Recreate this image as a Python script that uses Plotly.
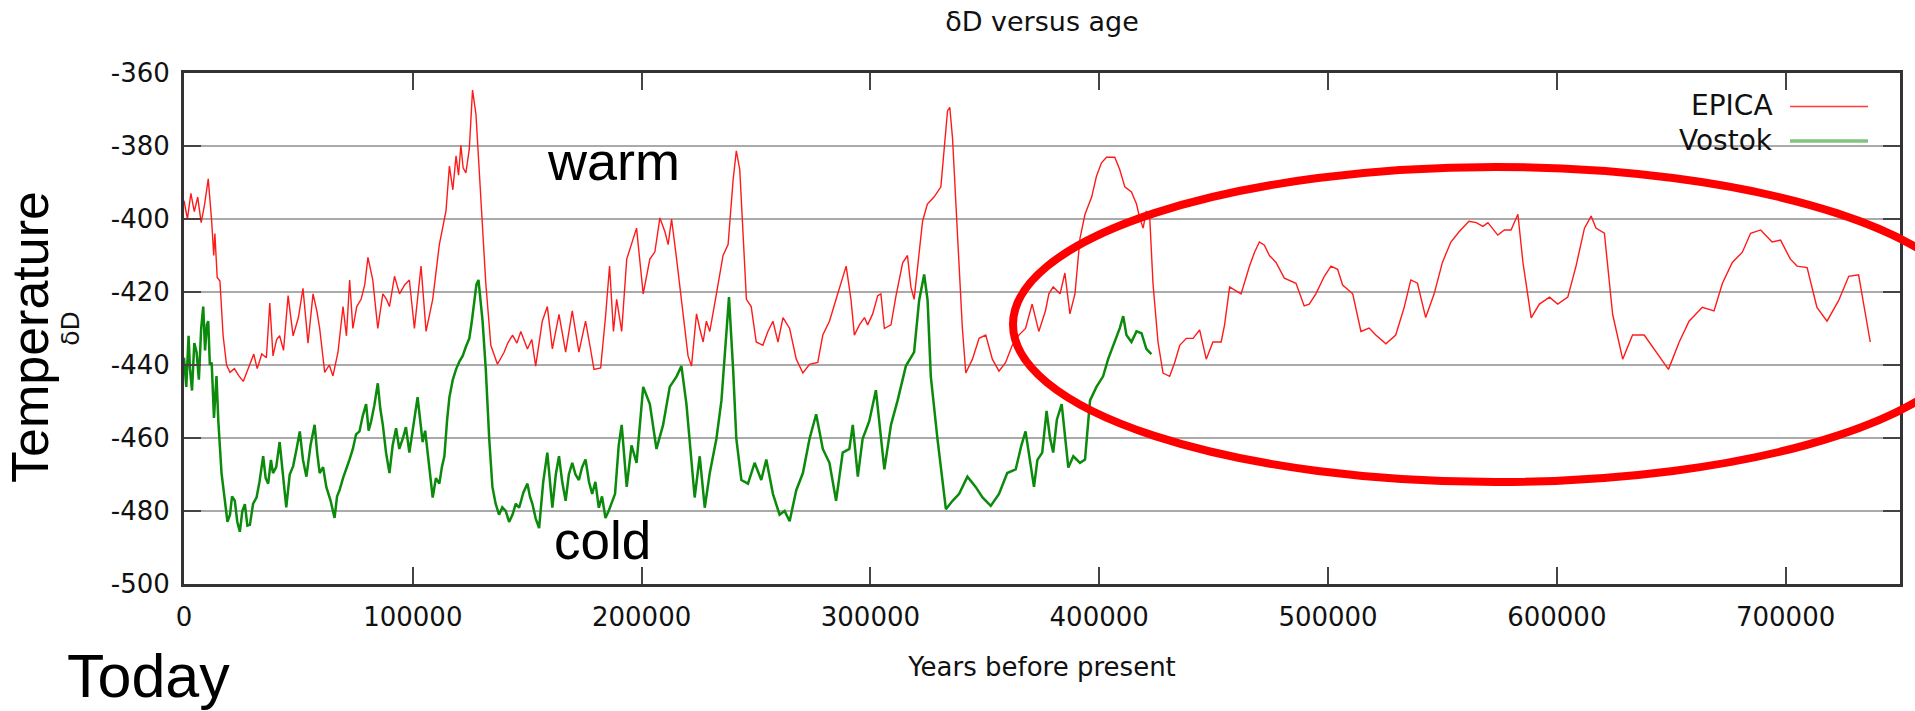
import plotly.graph_objects as go

# ---------------- data ----------------
epica_age = [0, 1500, 3000, 4500, 6000, 7500, 9000, 10600, 12100, 13000, 13500, 14500, 15700, 17100,
             18600, 20100, 22000, 24000, 25900, 27500, 28800, 30500, 32000, 34000, 36000, 37500, 38900,
             40500, 41800, 43500, 45500, 47700, 50000, 52000, 54200, 56400, 58000, 59300, 61500, 63500,
             65100, 67300, 69500, 71000, 72400, 73800, 75500, 77400, 79000, 80400, 82500, 84700, 86900,
             88500, 89800, 92000, 94200, 96500, 98500, 100700, 103600, 105800, 108700, 111600, 114500,
             116000, 117500, 118900, 120000, 121000, 122000, 123200, 124700, 126100, 127600, 129000,
             130500, 131900, 134100, 137000, 139900, 141500, 143600, 145500, 147200, 150100, 152000,
             153700, 156600, 158800, 161000, 163900, 166800, 169700, 172600, 175500, 177500, 179200,
             182100, 184200, 186000, 187700, 189100, 191300, 193500, 195600, 197800, 199000, 200700,
             203600, 205800, 208000, 210200, 211600, 213100, 215300, 218200, 220300, 221800, 224000,
             225400, 226900, 228300, 229800, 232700, 235600, 237800, 240000, 241400, 242900, 244300,
             245800, 247900, 250100, 253000, 255200, 257400, 259600, 261800, 264700, 267600, 270500,
             273400, 277000, 279200, 282100, 285000, 287200, 289400, 291500, 293000, 295200, 297400,
             298800, 301000, 303200, 304600, 306100, 309000, 311200, 314100, 316200, 317700, 319100,
             320600, 322800, 324900, 327800, 330800, 332200, 333700, 334700, 335900, 338000, 340200,
             341700, 344600, 347500, 350400, 353300, 356200, 359100, 362000, 364900, 367800, 370700,
             373600, 376500, 378000, 379900, 382900, 385000, 387200, 389400, 391600, 393800, 396700,
             398800, 401000, 403200, 406800, 409000, 411200, 414100, 416300, 417700, 419200, 420600,
             422100, 423500, 425700, 427900, 430800, 433000, 435200, 438100, 441000, 443900, 446800,
             449700, 453300, 454800, 457000, 462000, 465700, 467900, 470000, 472200, 474400, 477300,
             480900, 486000, 489600, 491800, 494700, 498400, 501300, 504200, 506400, 510800, 514400,
             518000, 520900, 525300, 529600, 533300, 536200, 539100, 542700, 546400, 550000, 553700,
             557300, 561600, 564800, 567700, 569900, 574200, 577100, 580000, 583000, 585200, 588800,
             592400, 596800, 600400, 604800, 608400, 612100, 615000, 617100, 620800, 624400, 628800,
             633100, 638200, 643300, 648800, 653500, 657800, 663600, 668700, 672400, 676700, 681100,
             684700, 689100, 694100, 697800, 702100, 705000, 709400, 713700, 718100, 723200, 727600,
             731900, 737000]
epica_dd = [-395, -400, -393, -398, -394, -401, -396, -389, -400.6, -410, -404, -416, -417, -432,
            -440, -442, -441, -443, -444.5, -442, -440, -437, -441, -437, -438, -423, -437.5,
            -433, -432, -436, -421, -432, -427, -419, -434, -420.5, -425, -430, -442, -440,
            -443, -436.5, -424, -432, -416.7, -430, -424, -422, -418, -410.5, -416.7, -430, -420.5,
            -422, -424, -415.7, -420.5, -418, -416.7, -430, -412.9, -430.8, -422, -407, -397.8,
            -385.5, -392, -382.7, -388, -379.8, -386, -387.4, -380.8, -364.7, -371.3, -387.4,
            -403.5, -417.6, -434.6, -439.8, -436.5, -434, -431.8, -434, -430.8, -435.6, -433,
            -440.3, -428, -424, -435.6, -426.1, -436.5, -425.2, -436.5, -428, -435, -441.2,
            -440.8, -427, -412.9, -430.8, -422, -430.8, -411, -407, -402.5, -410, -420.5,
            -411, -409, -399.7, -403.5, -407, -400, -411, -426, -437.5, -440.3, -426,
            -430, -433.7, -428, -430.8, -420.5, -410, -407, -389.3, -381.3, -386.5, -403.5,
            -422, -424, -433.7, -434.6, -430.8, -428, -433.7, -427, -430, -438.4, -442.2,
            -439.8, -439.3, -431.8, -428, -422, -417.6, -412.9, -422, -431.8, -429, -427,
            -429, -426, -421, -420.5, -430, -429, -421, -412, -410, -418.6, -422,
            -412.9, -400.6, -395.9, -394, -391.2, -381.7, -370.4, -369.4, -377.9, -403.5, -430,
            -442.2, -438.4, -432.7, -431.8, -438.4, -441.7, -439.3, -434.6, -431.8, -430, -423.3,
            -430.8, -425.2, -420.5, -418.6, -420.5, -414.8, -426, -420.5, -405.3, -398.7, -394,
            -388.3, -384.6, -383.1, -383.1, -386.5, -391.2, -392.6, -395.9, -399.7, -402.5, -397.8,
            -399.7, -417.6, -433.7, -442.2, -443.1, -439.3, -434.6, -432.7, -432.7, -430.4, -438.4,
            -433.7, -433.7, -429, -418.6, -420.5, -412.9, -409.1, -406.3, -407.2, -410, -411.9,
            -416.2, -417.6, -423.8, -423.3, -420.5, -415.7, -412.9, -413.8, -418.1, -420.5, -430.8,
            -429.9, -431.8, -434.2, -431.8, -424.2, -416.7, -417.6, -427, -420.5, -411.9, -406.3,
            -403.5, -400.6, -401, -402, -401, -404.4, -403, -403, -398.7, -411.9, -427.1,
            -423.3, -421.4, -423.3, -421.4, -412.9, -402.5, -399.2, -402.5, -403.9, -426.1, -438.4,
            -431.8, -431.8, -436.5, -441.2, -433.7, -428, -424.2, -425.2, -417.6, -411.9, -409.1,
            -403.9, -403, -406.3, -405.8, -411, -412.9, -413.3, -424.2, -428, -422.3, -415.7,
            -415.3, -433.7]

vostok_age = [0, 1000, 2000, 2600, 3500, 4500, 5500, 6500, 7500, 8400, 9200, 10000, 10600, 11300,
              12100, 13100, 14200, 15000, 16400, 17900, 19000, 20100, 21000, 22200, 23300, 24400,
              25500, 26600, 27700, 28800, 30200, 31700, 33000, 34600, 35700, 36800, 38000, 38900,
              40300, 41800, 43300, 44700, 46200, 47700, 49200, 50600, 52000, 53500, 55300, 57100,
              58200, 59300, 60800, 62200, 64000, 65800, 66900, 68000, 69500, 70900, 72300, 73800,
              75200, 76700, 78100, 79600, 80700, 81800, 83200, 84700, 85800, 86900, 88300, 89800,
              91200, 92700, 94100, 95600, 97000, 98500, 100300, 102100, 103200, 104300, 105400,
              106500, 107600, 108700, 110100, 111600, 112700, 113800, 115000, 116000, 117500,
              118900, 120400, 121800, 123200, 124700, 125800, 126800, 127800, 128700, 129600,
              130500, 131900, 133400, 134800, 136200, 137700, 139100, 140600, 142100, 143600,
              145000, 146500, 148300, 150100, 151200, 152300, 153700, 155200, 157000, 158800,
              159900, 161000, 162500, 163900, 165300, 166800, 168200, 169700, 171100, 172600,
              174000, 175500, 177000, 178400, 179800, 181300, 182700, 184200, 185600, 187100,
              188400, 190000, 191300, 193500, 195600, 197800, 200700, 203600, 206500, 209400,
              212300, 215300, 217400, 219600, 221100, 223200, 225400, 227600, 229800, 232700,
              234900, 237100, 238200, 240000, 241400, 243600, 246500, 249400, 252300, 254500,
              257400, 260300, 262500, 264700, 267600, 270500, 273400, 276300, 279200, 282100,
              285000, 287900, 290800, 292300, 294500, 296600, 299500, 302400, 303900, 306100,
              309000, 311900, 315500, 319100, 321300, 323500, 325000, 326400, 329300, 333000,
              335900, 338800, 342400, 346000, 349000, 352600, 356200, 359800, 363500, 366000,
              367800, 369500, 371500, 373000, 375100, 377000, 378500, 379900, 381500, 383600,
              385000, 386500, 388700, 391600, 393800, 396000, 398800, 401700, 403900, 406800,
              409000, 410500, 411900, 414100, 416300, 418500, 420600, 422800]
vostok_dd = [-438, -446, -432, -441, -447, -434, -436.5, -444, -430, -424, -436, -429, -428, -440,
             -439.3, -454.5, -443, -455.4, -469.6, -477.2, -483, -481, -476, -477.2, -483, -485.7,
             -480, -478.1, -484, -483.8, -478, -476.3, -472, -465, -471, -472.5, -466, -469.6,
             -468, -461.1, -470, -479, -470, -467.7, -463, -458.2, -466, -470.6, -462, -456.4,
             -464, -469.6, -468, -473.4, -477, -481.9, -476, -474.3, -471, -468.6, -466, -463,
             -459, -458.2, -454, -450.7, -458, -455.4, -451, -445, -452, -456.4, -464, -469.6,
             -462, -457.3, -463, -460.2, -457, -464, -456, -448.8, -455, -461.1, -458,
             -464, -470, -476.3, -471, -472.5, -468, -465, -455, -448.8, -444,
             -441.2, -439, -437.5, -435, -432.7, -428, -422.3, -418, -416.7, -422,
             -428, -441.2, -460.2, -473.4, -478, -481, -479, -480, -483, -481,
             -478, -479.1, -475, -472.5, -476, -478.1, -482, -484.7, -472, -464,
             -472, -479.1, -470, -465, -472, -477.2, -470, -466.8, -470, -471.5,
             -468, -465.9, -472, -475.3, -472, -479.1, -476, -481.9, -480, -477.2,
             -475.3, -462, -456.4, -473.4, -462, -466.8, -446, -450.7, -463, -456.4,
             -446, -443.1, -440.3, -450.7, -462, -476.3, -465, -479.1, -469.6, -460.2,
             -449.7, -431.8, -421.4, -441.2, -460.2, -471.5, -472.5, -466.8, -471.5, -465.9,
             -475.3, -481, -480, -482.8, -474.3, -469.6, -460.2, -453.5, -463, -466.8,
             -477.2, -464, -463, -456.4, -470.6, -460.2, -455.4, -446.9, -456.4, -468.6,
             -456.4, -449.7, -440.3, -436.5, -422.3, -415.2, -422.3, -443.1, -460.2, -479.5,
             -477.2, -475.3, -470.6, -473.4, -476.3, -478.6, -475.3, -469.6, -468.6, -462,
             -458.2, -465, -473.4, -466, -464, -452.6, -460, -464, -455, -450.7,
             -460, -468.1, -465, -466.8, -465.9, -449.7, -446, -443.1, -438.4, -433.7,
             -429.9, -426.6, -431.8, -433.7, -430.8, -431.3, -435.6, -437]

x_tickvals = [0, 100000, 200000, 300000, 400000, 500000, 600000, 700000]
x_ticktext = ["0", "100000", "200000", "300000", "400000", "500000", "600000", "700000"]
y_tickvals = [-500, -480, -460, -440, -420, -400, -380, -360]
y_ticktext = ["-500", "-480", "-460", "-440", "-420", "-400", "-380", "-360"]
series_names = ["EPICA", "Vostok"]

# ---------------- layout helpers (pixel -> paper) ----------------
W, H = 1915, 711
L, R, T, B = 184, 1900, 73, 584


def px(xp):
    return (xp - L) / (R - L)


def py(yp):
    return (B - yp) / (B - T)


FONT = "Liberation Sans, Arial, Helvetica, sans-serif"   # slide annotations
GFONT = "DejaVu Sans, Verdana, sans-serif"                # chart texts (wide gnuplot look)
RED = "#ff1a1a"
GREEN = "#0b8a0b"

fig = go.Figure()
fig.add_trace(go.Scatter(x=epica_age, y=epica_dd, mode="lines", name=series_names[0],
                         line=dict(color=RED, width=1.4), showlegend=False))
fig.add_trace(go.Scatter(x=vostok_age, y=vostok_dd, mode="lines", name=series_names[1],
                         line=dict(color=GREEN, width=2.5), showlegend=False))

axis_common = dict(ticks="inside", ticklen=17, tickwidth=2, tickcolor="#444444",
                   showline=True, linecolor="#333333", linewidth=3, mirror="allticks",
                   zeroline=False, tickfont=dict(family=GFONT, size=26, color="#111111"))

fig.update_xaxes(range=[0, 750000], tickmode="array", tickvals=x_tickvals, ticktext=x_ticktext,
                 showgrid=False, automargin=False, ticklabelstandoff=8,
                 title=dict(text="Years before present", font=dict(family=GFONT, size=26, color="#111111"),
                            standoff=27),
                 **axis_common)
fig.update_yaxes(range=[-500, -360], tickmode="array", tickvals=y_tickvals, ticktext=y_ticktext,
                 showgrid=True, gridcolor="#aaaaaa", gridwidth=2, automargin=False,
                 ticklabelstandoff=6,
                 title=dict(text="δD", font=dict(family=GFONT, size=25, color="#111111"), standoff=25),
                 **axis_common)

annotations = [
    dict(text="warm", x=px(545), y=py(161), xanchor="left", yanchor="middle",
         font=dict(family=FONT, size=54, color="black")),
    dict(text="cold", x=px(552), y=py(540), xanchor="left", yanchor="middle",
         font=dict(family=FONT, size=53, color="black")),
    dict(text="Today", x=px(65), y=py(676), xanchor="left", yanchor="middle",
         font=dict(family=FONT, size=61, color="black")),
    dict(text="Temperature", x=px(30), y=py(337), xanchor="center", yanchor="middle", textangle=-90,
         font=dict(family=FONT, size=52, color="black")),
    dict(text=series_names[0], x=px(1775), y=py(105), xanchor="right", yanchor="middle",
         font=dict(family=GFONT, size=28, color="#111111")),
    dict(text=series_names[1], x=px(1775), y=py(140), xanchor="right", yanchor="middle",
         font=dict(family=GFONT, size=28, color="#111111")),
]
for a in annotations:
    a.update(xref="paper", yref="paper", showarrow=False)

shapes = [
    # legend background (hides grid line behind the key)
    dict(type="rect", xref="paper", yref="paper", x0=px(1678), x1=px(1897), y0=py(158), y1=py(80),
         fillcolor="white", line=dict(width=0), layer="between"),
    # legend samples
    dict(type="line", xref="paper", yref="paper", x0=px(1790), x1=px(1868), y0=py(106.5), y1=py(106.5),
         line=dict(color="#ff3b3b", width=1.6), layer="above"),
    dict(type="line", xref="paper", yref="paper", x0=px(1790), x1=px(1868), y0=py(141), y1=py(141),
         line=dict(color="#80c480", width=3.5), layer="above"),
    # hand-drawn highlight ellipse
    dict(type="circle", xref="paper", yref="paper", x0=px(1013), x1=px(1978), y0=py(482), y1=py(167),
         line=dict(color="#ff0000", width=8), fillcolor="rgba(0,0,0,0)", layer="above"),
]

fig.update_layout(
    width=W, height=H, autosize=False,
    margin=dict(l=L, r=W - R, t=T, b=H - B, pad=0),
    paper_bgcolor="white", plot_bgcolor="white",
    showlegend=False,
    title=dict(text="δD versus age", x=0.5, xref="paper", xanchor="center",
               y=1 - 22 / H, yref="container", yanchor="middle",
               font=dict(family=GFONT, size=27, color="#111111")),
    annotations=annotations, shapes=shapes,
    font=dict(family=FONT),
)

fig.write_html("out.html")
